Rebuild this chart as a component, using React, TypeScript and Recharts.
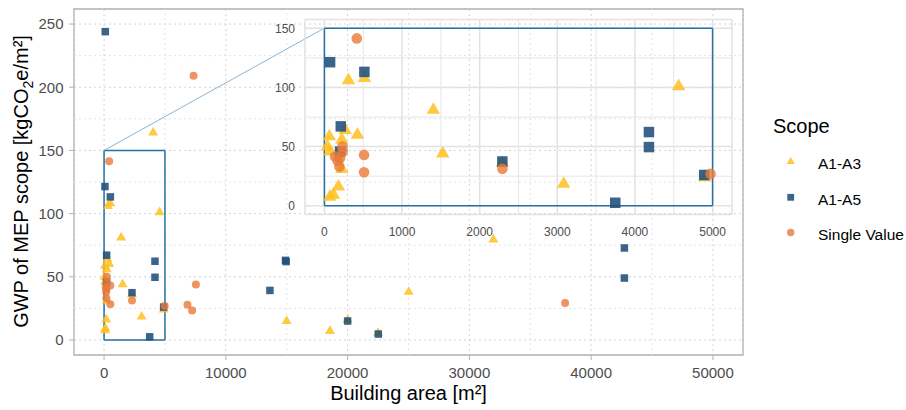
import React from 'react';
import { ScatterChart, Scatter, XAxis, YAxis, CartesianGrid, ReferenceArea, ReferenceLine } from 'recharts';

// ---- data (building area m², GWP kgCO2e/m²) ----
const a1a3Area = [4030, 14990, 18550, 20000, 22500, 25015, 31970, 309, 515, 1403, 1524, 64, 39, 73, 266, 425, 224, 224, 180, 116, 70, 4562, 3082, 4900, 2290];
const a1a3Gwp = [164, 15, 7, 16, 5.5, 38, 79.5, 106, 108, 81, 44, 58.6, 50, 45.8, 64, 60, 55.8, 31, 16.1, 9.1, 7.6, 101, 18.4, 24, 36];

const a1a5Area = [100, 13620, 14900, 14950, 20000, 22520, 42730, 42730, 73, 515, 211, 202, 2292, 4180, 4180, 3746, 4892];
const a1a5Gwp = [244, 39.2, 63, 62, 15, 4.7, 72.8, 49, 121.4, 113.2, 67.1, 45.8, 37.4, 62.3, 49.6, 2.5, 26];

const singleArea = [7350, 7540, 6850, 7230, 37860, 417, 232, 138, 202, 170, 193, 511, 511, 2292, 4974, 237];
const singleGwp = [209, 43.8, 27.9, 23.4, 29.3, 141.5, 50, 41.6, 40.2, 38, 33.1, 43, 28.3, 31.2, 26.9, 45.8];

const mainXTicks = [0, 10000, 20000, 30000, 40000, 50000];
const mainXMinor = [5000, 15000, 25000, 35000, 45000];
const mainYTicks = [0, 50, 100, 150, 200, 250];
const mainYMinor = [25, 75, 125, 175, 225];

const insetXTicks = [0, 1000, 2000, 3000, 4000, 5000];
const insetXMinor = [500, 1500, 2500, 3500, 4500];
const insetYTicks = [0, 50, 100, 150];
const insetYMinor = [25, 75, 125];

const zoomBox = { x1: 0, x2: 5000, y1: 0, y2: 150 };
const connector = [{ x: 0, y: 150 }, { x: 18096, y: 246.8 }];

const legendItems = ['A1-A3', 'A1-A5', 'Single Value'];

const zip = (xs: number[], ys: number[]) => xs.map((x, i) => ({ x, y: ys[i] }));
const a1a3 = zip(a1a3Area, a1a3Gwp);
const a1a5 = zip(a1a5Area, a1a5Gwp);
const single = zip(singleArea, singleGwp);
const inBox = (d: { x: number; y: number }) => d.x <= zoomBox.x2 && d.y <= zoomBox.y2;

const boxEdges = [
  [{ x: zoomBox.x1, y: zoomBox.y1 }, { x: zoomBox.x2, y: zoomBox.y1 }],
  [{ x: zoomBox.x2, y: zoomBox.y1 }, { x: zoomBox.x2, y: zoomBox.y2 }],
  [{ x: zoomBox.x2, y: zoomBox.y2 }, { x: zoomBox.x1, y: zoomBox.y2 }],
  [{ x: zoomBox.x1, y: zoomBox.y2 }, { x: zoomBox.x1, y: zoomBox.y1 }],
];

const YELLOW = '#FFC020';
const BLUE = '#1F4E7A';
const ORANGE = '#E8793A';
const BOX = '#2471A3';
const FONT = '"Liberation Sans", Arial, sans-serif';

const tri = (s: number) => (p: any) => {
  const { cx, cy } = p;
  if (cx == null || cy == null) return <g />;
  const h = s * 0.866;
  return (
    <polygon
      points={`${cx},${cy - (2 * h) / 3} ${cx - s / 2},${cy + h / 3} ${cx + s / 2},${cy + h / 3}`}
      fill={YELLOW}
      fillOpacity={0.85}
    />
  );
};
const sq = (s: number) => (p: any) => {
  const { cx, cy } = p;
  if (cx == null || cy == null) return <g />;
  return <rect x={cx - s / 2} y={cy - s / 2} width={s} height={s} fill={BLUE} fillOpacity={0.88} />;
};
const circ = (r: number) => (p: any) => {
  const { cx, cy } = p;
  if (cx == null || cy == null) return <g />;
  return <circle cx={cx} cy={cy} r={r} fill={ORANGE} fillOpacity={0.8} />;
};

const BoxLines = (prefix: string) =>
  boxEdges.map((seg, i) => (
    <ReferenceLine key={prefix + i} segment={seg} stroke={BOX} strokeWidth={1.5} ifOverflow="visible" />
  ));

const MainChart = () => (
  <ScatterChart width={906} height={410} margin={{ top: 9, right: 163, bottom: 25, left: 14 }}>
    <CartesianGrid stroke="#D4D4D4" strokeDasharray="2 3" strokeWidth={1} />
    {mainXMinor.map((v) => (
      <ReferenceLine key={'mx' + v} x={v} stroke="#E4E4E4" strokeDasharray="2 3" strokeWidth={1} />
    ))}
    {mainYMinor.map((v) => (
      <ReferenceLine key={'my' + v} y={v} stroke="#E4E4E4" strokeDasharray="2 3" strokeWidth={1} />
    ))}
    <XAxis
      type="number"
      dataKey="x"
      domain={[-2470, 52470]}
      ticks={mainXTicks}
      allowDataOverflow
      height={30}
      axisLine={false}
      tickSize={5}
      tickMargin={7}
      tickLine={{ stroke: '#B3B3B3' }}
      tick={{ fontSize: 15, fill: '#4D4D4D', fontFamily: FONT }}
    />
    <YAxis
      type="number"
      dataKey="y"
      domain={[-11.9, 261.9]}
      ticks={mainYTicks}
      allowDataOverflow
      width={60}
      axisLine={false}
      tickSize={5}
      tickMargin={5.5}
      tickLine={{ stroke: '#B3B3B3' }}
      tick={{ fontSize: 15, fill: '#4D4D4D', fontFamily: FONT }}
    />
    <ReferenceArea x1={-2470} x2={52470} y1={-11.9} y2={261.9} fill="none" stroke="#B3B3B3" strokeWidth={1.3} ifOverflow="visible" />
    {BoxLines('mb')}
    <ReferenceLine segment={connector} stroke="#8DB3CF" strokeWidth={1} ifOverflow="visible" />
    <Scatter data={a1a3} shape={tri(10)} isAnimationActive={false} />
    <Scatter data={a1a5} shape={sq(7.5)} isAnimationActive={false} />
    <Scatter data={single} shape={circ(4)} isAnimationActive={false} />
  </ScatterChart>
);

const InsetChart = () => (
  <ScatterChart width={906} height={410} margin={{ top: 19.5, right: 174, bottom: 175.4, left: 275 }}>
    <CartesianGrid stroke="#E2E2E2" strokeWidth={1.5} />
    {insetXMinor.map((v) => (
      <ReferenceLine key={'ix' + v} x={v} stroke="#E6E6E6" strokeWidth={1} />
    ))}
    {insetYMinor.map((v) => (
      <ReferenceLine key={'iy' + v} y={v} stroke="#E6E6E6" strokeWidth={1} />
    ))}
    <XAxis
      type="number"
      dataKey="x"
      domain={[-250, 5250]}
      ticks={insetXTicks}
      allowDataOverflow
      height={20}
      axisLine={false}
      tickLine={false}
      tickMargin={7}
      tick={{ fontSize: 12, fill: '#4D4D4D', fontFamily: FONT }}
    />
    <YAxis
      type="number"
      dataKey="y"
      domain={[-7.5, 157.5]}
      ticks={insetYTicks}
      allowDataOverflow
      width={30}
      axisLine={false}
      tickLine={false}
      tickMargin={4}
      tick={{ fontSize: 12, fill: '#4D4D4D', fontFamily: FONT }}
    />
    {BoxLines('ib')}
    <Scatter data={a1a3.filter(inBox)} shape={tri(13.5)} isAnimationActive={false} />
    <Scatter data={a1a5.filter(inBox)} shape={sq(10.5)} isAnimationActive={false} />
    <Scatter data={single.filter(inBox)} shape={circ(5.3)} isAnimationActive={false} />
  </ScatterChart>
);

const Overlay = () => {
  const legendY = [161.7, 197.3, 232.5];
  const lx = 790.7;
  return (
    <svg width={906} height={410} style={{ position: 'absolute', left: 0, top: 0, pointerEvents: 'none' }}>
      <text x={408.5} y={400} textAnchor="middle" fontSize={20} fill="#000" fontFamily={FONT}>
        Building area [m²]
      </text>
      <text transform="translate(28,181.5) rotate(-90)" textAnchor="middle" fontSize={20} fill="#000" fontFamily={FONT}>
        GWP of MEP scope [kgCO
        <tspan fontSize={14} dy={5}>2</tspan>
        <tspan dy={-5}>e/m²]</tspan>
      </text>
      <text x={773} y={133} fontSize={20} fill="#000" fontFamily={FONT}>Scope</text>
      <polygon
        points={`${lx},${legendY[0] - 4.8} ${lx - 4.2},${legendY[0] + 2.4} ${lx + 4.2},${legendY[0] + 2.4}`}
        fill={YELLOW}
        fillOpacity={0.85}
      />
      <rect x={lx - 3.4} y={legendY[1] - 3.4} width={6.8} height={6.8} fill={BLUE} fillOpacity={0.88} />
      <circle cx={lx} cy={legendY[2]} r={3.7} fill={ORANGE} fillOpacity={0.8} />
      {legendItems.map((t, i) => (
        <text key={t} x={818} y={legendY[i] + 7.5} fontSize={15.5} fill="#000" fontFamily={FONT}>
          {t}
        </text>
      ))}
    </svg>
  );
};

export default function App() {
  return (
    <div style={{ position: 'absolute', left: 0, top: 0, width: 906, height: 410, background: '#fff', fontFamily: FONT }}>
      <div style={{ position: 'absolute', left: 0, top: 0 }}>
        <MainChart />
      </div>
      <div style={{ position: 'absolute', left: 0, top: 0 }}>
        <InsetChart />
      </div>
      <Overlay />
    </div>
  );
}
